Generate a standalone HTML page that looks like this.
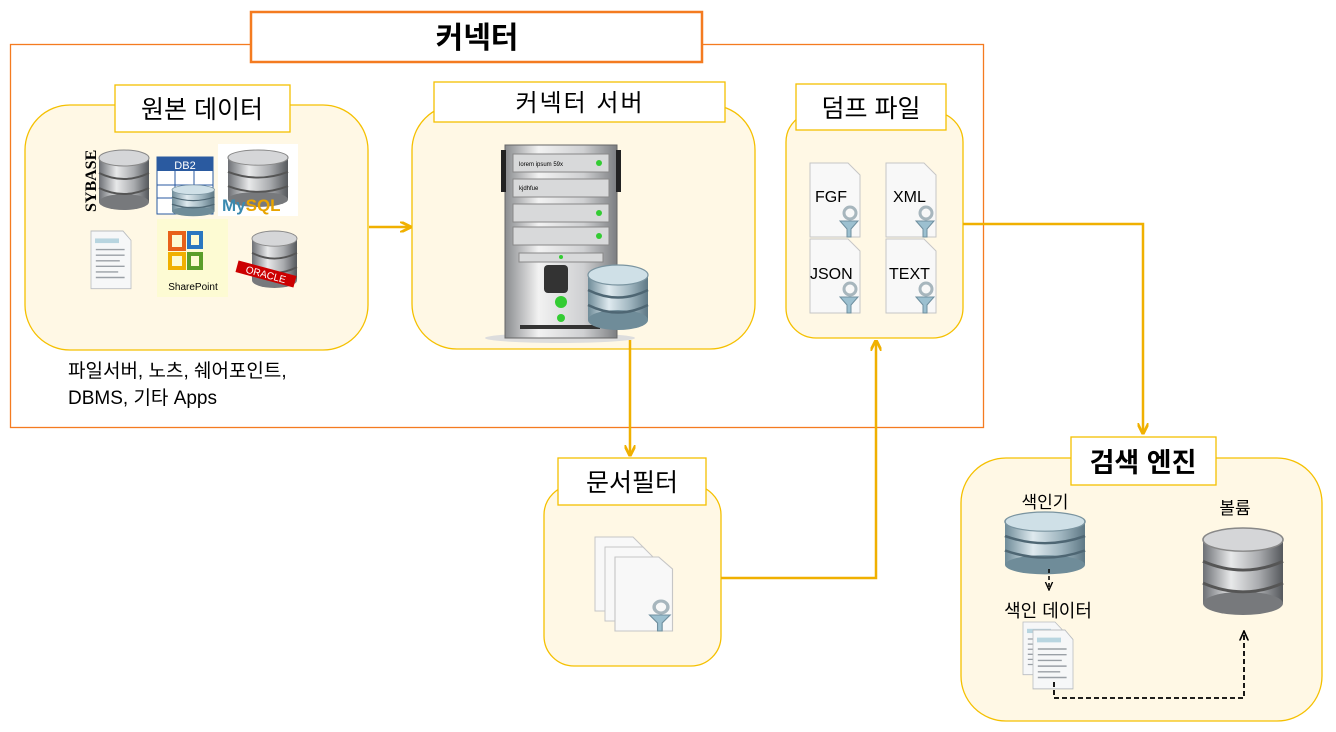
<!DOCTYPE html>
<html><head><meta charset="utf-8"><style>
body{margin:0;background:#fff;}
svg{display:block;font-family:"Liberation Sans","Noto Sans CJK KR",sans-serif;}
</style></head><body>
<svg width="1336" height="732" viewBox="0 0 1336 732" xmlns="http://www.w3.org/2000/svg">
<defs>
<linearGradient id="sil" x1="0" x2="1"><stop offset="0" stop-color="#6d7075"/><stop offset=".35" stop-color="#e8e9ea"/><stop offset=".7" stop-color="#a9abae"/><stop offset="1" stop-color="#55585c"/></linearGradient>
<linearGradient id="blu" x1="0" x2="1"><stop offset="0" stop-color="#6f8c99"/><stop offset=".35" stop-color="#dfeaef"/><stop offset=".7" stop-color="#9fb5bf"/><stop offset="1" stop-color="#5e7885"/></linearGradient>
<linearGradient id="srv" x1="0" x2="1"><stop offset="0" stop-color="#8a8c8f"/><stop offset=".3" stop-color="#f2f2f2"/><stop offset=".7" stop-color="#cfd0d2"/><stop offset="1" stop-color="#7c7e81"/></linearGradient>
<g id="cylS"><rect x="0" y="8" width="50" height="44" fill="url(#sil)"/><ellipse cx="25" cy="52" rx="25" ry="8" fill="#77797c"/><ellipse cx="25" cy="8" rx="25" ry="8" fill="#d5d6d8" stroke="#888"/><path d="M0 23 q25 12 50 0 M0 38 q25 12 50 0" stroke="#555" stroke-width="2" fill="none"/></g>
<g id="cylB"><rect x="0" y="8" width="50" height="36" fill="url(#blu)"/><ellipse cx="25" cy="44" rx="25" ry="8" fill="#6f8c99"/><ellipse cx="25" cy="8" rx="25" ry="8" fill="#cfe0e7" stroke="#7a94a0"/><path d="M0 20 q25 12 50 0 M0 32 q25 12 50 0" stroke="#4e6673" stroke-width="2" fill="none"/></g>
<g id="doc"><path d="M0 0 h40 l10 10 v52 h-50z" fill="#f6f7f8" stroke="#b9bcc0"/><rect x="5" y="8" width="30" height="5" fill="#b8d5e0"/><path d="M6 20h36M6 26h36M6 32h30M6 38h36M6 44h28M6 50h36" stroke="#9aa0a6" stroke-width="1.5"/></g>
<g id="fdoc"><path d="M0 0 h38 l12 12 v62 h-50z" fill="#f8f8f8" stroke="#c6c6c6"/><path d="M30 58 h18 l-7 8 v8 h-4 v-8z" fill="#9cc0d0" stroke="#6f8f9f"/><circle cx="40" cy="50" r="6" fill="none" stroke="#a7b6bd" stroke-width="3"/></g>
<marker id="ah" viewBox="0 0 10 10" refX="8" refY="5" markerWidth="4.5" markerHeight="4.5" orient="auto"><path d="M0 0 L10 5 L0 10" fill="none" stroke="#f0b000" stroke-width="2.5"/></marker>
<marker id="ad" viewBox="0 0 10 10" refX="9" refY="5" markerWidth="6" markerHeight="6" orient="auto"><path d="M0 1 L9 5 L0 9" fill="none" stroke="#000" stroke-width="1.5"/></marker>
</defs>

<rect x="10.5" y="44.5" width="973" height="383" fill="none" stroke="#f47b20" stroke-width="1.3"/>
<rect x="251" y="12" width="451" height="50" fill="#fff" stroke="#f47b20" stroke-width="2.5"/>
<text x="477" y="48" font-size="30" font-weight="bold" text-anchor="middle">커넥터</text>

<g fill="#fff8e5" stroke="#f5c000" stroke-width="1.3">
<rect x="25" y="105" width="343" height="245" rx="45"/>
<rect x="412" y="105" width="343" height="244" rx="45"/>
<rect x="786" y="112" width="177" height="226" rx="30"/>
<rect x="544" y="485" width="177" height="181" rx="30"/>
<rect x="961" y="458" width="361" height="263" rx="45"/>
</g>
<g fill="#fff" stroke="#f5c000" stroke-width="1.3">
<rect x="115" y="85" width="175" height="47"/>
<rect x="434" y="82" width="291" height="40"/>
<rect x="796" y="84" width="150" height="46"/>
<rect x="558" y="458" width="148" height="47"/>
<rect x="1071" y="437" width="145" height="48"/>
</g>
<text x="202" y="118" font-size="25" text-anchor="middle">원본 데이터</text>
<text x="580" y="111" font-size="24" text-anchor="middle" letter-spacing="2">커넥터 서버</text>
<text x="871" y="117" font-size="25" text-anchor="middle">덤프 파일</text>
<text x="632" y="491" font-size="25" text-anchor="middle">문서필터</text>
<text x="1143" y="472" font-size="27" font-weight="bold" text-anchor="middle">검색 엔진</text>

<text transform="translate(96,212) rotate(-90)" font-family="Liberation Serif,serif" font-size="16" font-weight="bold">SYBASE</text>
<use href="#cylS" transform="translate(99,150) scale(1,1)"/>
<rect x="157" y="157" width="56" height="57" fill="#fff" stroke="#2a5aa0"/><rect x="157" y="157" width="56" height="14" fill="#2a5aa0"/><text x="185" y="169" font-size="11" fill="#fff" text-anchor="middle">DB2</text>
<path d="M157 185h56M157 198h56M175 171v43M194 171v43" stroke="#2a5aa0"/>
<use href="#cylB" transform="translate(172,185) scale(0.85,0.6)" />
<rect x="218" y="144" width="80" height="72" fill="#fff"/>
<use href="#cylS" transform="translate(228,150) scale(1.2,0.95)"/>
<text x="222" y="211" font-size="17" font-weight="bold" fill="#3a8ab0">My<tspan fill="#e9a400">SQL</tspan></text>
<use href="#doc" transform="translate(91,231) scale(0.8,0.93)"/>
<rect x="157" y="219" width="71" height="78" fill="#fdfbd3"/>
<rect x="170" y="233" width="14" height="16" fill="none" stroke="#e8621a" stroke-width="4"/><rect x="189" y="233" width="12" height="14" fill="none" stroke="#2a77c0" stroke-width="4"/>
<rect x="170" y="254" width="14" height="14" fill="none" stroke="#f0b000" stroke-width="4"/><rect x="189" y="254" width="12" height="14" fill="none" stroke="#5a9e2a" stroke-width="4"/>
<text x="193" y="290" font-size="10" text-anchor="middle">SharePoint</text>
<use href="#cylS" transform="translate(252,231) scale(0.9,0.95)"/>
<rect x="236" y="268" width="60" height="12" fill="#c00" transform="rotate(15 266 274)"/><text x="266" y="278" font-size="10" fill="#fff" text-anchor="middle" transform="rotate(15 266 274)">ORACLE</text>

<text x="68" y="377" font-size="19">파일서버, 노츠, 쉐어포인트,</text>
<text x="68" y="404" font-size="19">DBMS, 기타 Apps</text>

<ellipse cx="560" cy="338" rx="75" ry="5" fill="#ddd"/>
<rect x="505" y="145" width="112" height="193" fill="url(#srv)" stroke="#666"/>
<rect x="501" y="150" width="5" height="42" fill="#222"/><rect x="616" y="150" width="5" height="42" fill="#222"/>
<g fill="#d8d9da" stroke="#888"><rect x="513" y="154" width="96" height="18"/><rect x="513" y="179" width="96" height="18"/><rect x="513" y="204" width="96" height="18"/><rect x="513" y="227" width="96" height="18"/><rect x="519" y="253" width="84" height="9"/></g>
<text x="519" y="166" font-size="6">lorem ipsum 59x</text><text x="519" y="190" font-size="6">kjdhfue</text>
<g fill="#3c3"><circle cx="599" cy="163" r="3"/><circle cx="599" cy="213" r="3"/><circle cx="599" cy="236" r="3"/><circle cx="561" cy="257" r="2"/><circle cx="561" cy="302" r="6"/><circle cx="561" cy="318" r="4"/></g>
<rect x="544" y="265" width="24" height="28" rx="4" fill="#333"/>
<rect x="520" y="325" width="80" height="4" fill="#333"/>
<use href="#cylB" transform="translate(588,265) scale(1.2,1.25)"/>

<use href="#fdoc" transform="translate(810,163)"/><text x="815" y="202" font-size="16">FGF</text>
<use href="#fdoc" transform="translate(886,163)"/><text x="893" y="202" font-size="16">XML</text>
<use href="#fdoc" transform="translate(810,239)"/><text x="810" y="279" font-size="16">JSON</text>
<use href="#fdoc" transform="translate(886,239)"/><text x="889" y="279" font-size="16">TEXT</text>

<use href="#fdoc" transform="translate(595,537)"/>
<use href="#fdoc" transform="translate(605,547)"/>
<use href="#fdoc" transform="translate(615,557) scale(1.15,1)"/>

<text x="1045" y="508" font-size="17" text-anchor="middle">색인기</text>
<use href="#cylB" transform="translate(1005,512) scale(1.6,1.2)"/>
<text x="1048" y="617" font-size="18" text-anchor="middle">색인 데이터</text>
<use href="#doc" transform="translate(1023,622) scale(0.8,0.85)"/>
<use href="#doc" transform="translate(1033,630) scale(0.8,0.95)"/>
<text x="1235" y="514" font-size="17" text-anchor="middle">볼륨</text>
<use href="#cylS" transform="translate(1203,528) scale(1.6,1.45)"/>
<path d="M1049 569 V590" stroke="#000" stroke-width="1.5" stroke-dasharray="4,3" fill="none" marker-end="url(#ad)"/>
<path d="M1054 682 V698 H1244 V631" stroke="#000" stroke-width="1.8" stroke-dasharray="5,3" fill="none" marker-end="url(#ad)"/>

<g stroke="#f0b000" stroke-width="2.5" fill="none" marker-end="url(#ah)">
<path d="M369 227 H409"/>
<path d="M630 340 V454"/>
<path d="M721 578 H876 V342"/>
<path d="M963 224 H1143 V432"/>
</g>
</svg>
</body></html>
